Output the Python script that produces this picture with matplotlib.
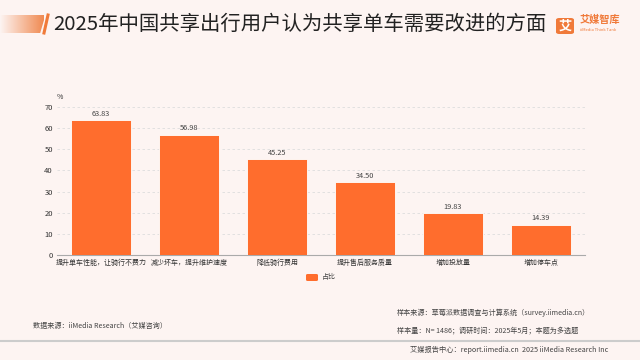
import numpy as np
import matplotlib.pyplot as plt
from matplotlib.patches import Polygon, FancyBboxPatch
from matplotlib.colors import LinearSegmentedColormap

plt.rcParams['font.family'] = ['Noto Sans CJK SC', 'DejaVu Sans']

categories = ['提升单车性能，让骑行不费力', '减少坏车，提升维护速度', '降低骑行费用',
              '提升售后服务质量', '增加投放量', '增加停车点']
values = [63.83, 56.98, 45.25, 34.50, 19.83, 14.39]
yticks = [0, 10, 20, 30, 40, 50, 60, 70]

orange = '#ff6d2d'
bg = '#fdf4f2'
txt = '#444444'

fig = plt.figure(figsize=(6.4, 3.6), dpi=100)
fig.patch.set_facecolor(bg)

# title band: gradient bar + slanted stroke
grad = np.linspace(0, 1, 100).reshape(1, -1)
gax = fig.add_axes([0, 1 - 33 / 360, 44 / 640, 18 / 360])
cm = LinearSegmentedColormap.from_list('g', [bg, '#f08a52'])
gax.imshow(grad, aspect='auto', cmap=cm, extent=[0, 1, 0, 1])
gax.add_patch(Polygon([[0.93, 0], [1.05, 1], [1.2, 1], [1.2, 0]], color=bg, transform=gax.transAxes))
gax.axis('off')
fig.add_artist(plt.Line2D([44 / 640, 48 / 640], [1 - 33 / 360, 1 - 15 / 360], color='#f07a3a', lw=2.2))
fig.text(53 / 640, 1 - 24 / 360, '2025年中国共享出行用户认为共享单车需要改进的方面',
         fontsize=14.7, va='center', ha='left', color='#222222')

# logo
fig.add_artist(FancyBboxPatch((556 / 640, 1 - 34 / 360), 18 / 640, 16 / 360,
                              boxstyle='round,pad=0,rounding_size=0.005', fc='#f07a3a', ec='none',
                              transform=fig.transFigure))
fig.text(565 / 640, 1 - 26 / 360, '艾', color='white', fontsize=9.5, ha='center', va='center', weight='bold')
fig.text(580 / 640, 1 - 20 / 360, '艾媒智库', color='#f07a3a', fontsize=7.3, ha='left', va='center', weight='bold')
fig.text(580 / 640, 1 - 30 / 360, 'iiMedia Think Tank', color='#f07a3a', fontsize=3, ha='left', va='center')

# main axes
ax = fig.add_axes([57 / 640, 1 - 255 / 360, 528 / 640, 148 / 360])
ax.set_facecolor('none')
x = np.arange(len(categories))
ax.bar(x, values, width=0.68, color=orange, edgecolor='white', linewidth=0.6, zorder=3)
for xi, v in zip(x, values):
    ax.text(xi, v + 1.2, f'{v:.2f}', ha='center', va='bottom', fontsize=5.3, color=txt)
ax.set_xlim(-0.5, len(categories) - 0.5)
ax.set_ylim(0, 70)
ax.set_yticks(yticks)
ax.set_xticks(x)
ax.set_xticklabels(categories)
ax.tick_params(axis='x', labelsize=5, colors='#333333', length=0, pad=3)
ax.tick_params(axis='y', labelsize=5.5, colors='#333333', length=0, pad=3)
ax.grid(axis='y', linestyle=(0, (3, 3)), color='#dddddd', lw=0.6, zorder=0)
for s in ['top', 'right', 'left']:
    ax.spines[s].set_visible(False)
ax.spines['bottom'].set_color('#aaaaaa')
ax.text(-0.47, 73, '%', fontsize=5, color='#333333', ha='center', va='bottom')

# legend
fig.add_artist(FancyBboxPatch((306 / 640, 1 - 281 / 360), 12 / 640, 7 / 360,
                              boxstyle='round,pad=0,rounding_size=0.003', fc=orange, ec='none',
                              transform=fig.transFigure))
fig.text(322 / 640, 1 - 277.5 / 360, '占比', fontsize=5, color=txt, va='center')

# notes
fig.text(33 / 640, 1 - 326 / 360, '数据来源：iiMedia Research（艾媒咨询）', fontsize=5.1, color=txt, va='center')
fig.text(397 / 640, 1 - 313 / 360, '样本来源：草莓派数据调查与计算系统（survey.iimedia.cn）', fontsize=5.1, color=txt, va='center')
fig.text(397 / 640, 1 - 330 / 360, '样本量：N= 1486；调研时间：2025年5月；本题为多选题', fontsize=5.1, color=txt, va='center')
fig.add_artist(plt.Line2D([0, 1], [1 - 341 / 360, 1 - 341 / 360], color='#cccccc', lw=1.5))
fig.text(608 / 640, 1 - 350 / 360, '艾媒报告中心：report.iimedia.cn  2025 iiMedia Research Inc',
         fontsize=5.2, color=txt, va='center', ha='right')

fig.savefig('out.png', dpi=100, facecolor=bg)
